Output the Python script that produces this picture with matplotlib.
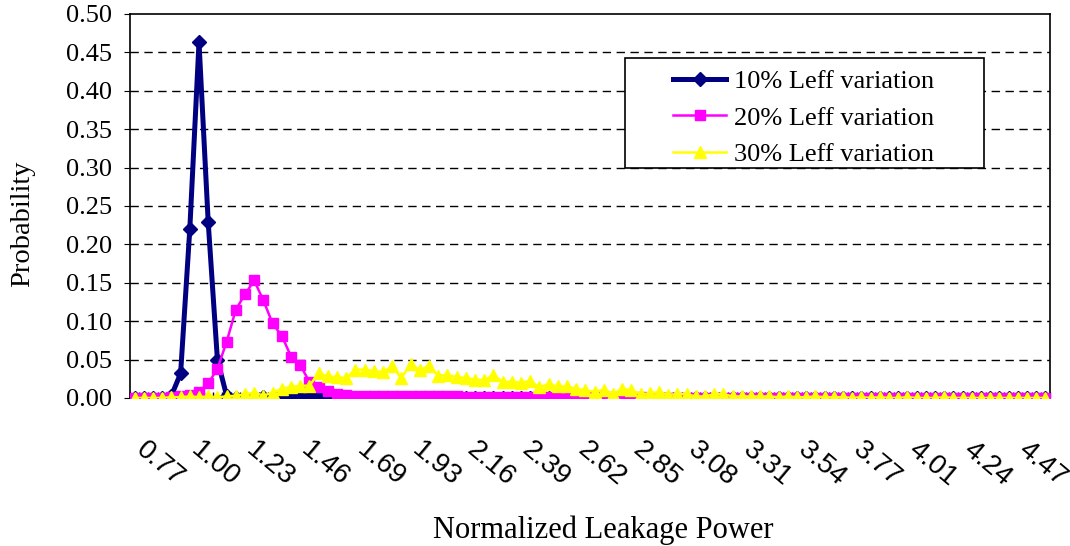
import matplotlib
matplotlib.use("Agg")
import matplotlib.pyplot as plt
from matplotlib.patches import Rectangle
import numpy as np

# x tick labels (one label every 6 categories)
leak_labels = ["0.77", "1.00", "1.23", "1.46", "1.69", "1.93", "2.16", "2.39", "2.62",
               "2.85", "3.08", "3.31", "3.54", "3.77", "4.01", "4.24", "4.47"]
label_every = 6
n_cat = 100

series_names = ["10% Leff variation", "20% Leff variation", "30% Leff variation"]

p10 = [0, 0, 0, 0, 0.003, 0.032, 0.220, 0.463, 0.229, 0.050,
       0.003, 0, 0, 0, 0.001, 0.001, 0.002, 0.002, 0.002, 0.002,
       0.002, 0.001] + [0] * 78

p20 = [0, 0, 0, 0, 0.001, 0.002, 0.004, 0.008, 0.019, 0.038,
       0.073, 0.115, 0.135, 0.153, 0.127, 0.097, 0.081, 0.054, 0.043, 0.021,
       0.014, 0.009, 0.005, 0.004, 0.003, 0.003, 0.002, 0.002, 0.002, 0.002,
       0.002, 0.002, 0.002, 0.002, 0.002, 0.002, 0.001, 0.001, 0.001, 0.001,
       0.001, 0.001, 0.001, 0.001, 0.001, 0.001, 0.001, 0.001, 0.001, 0.001,
       0.001, 0.001, 0.001, 0.001, 0.001, 0.001] + [0] * 44

p30 = [0, 0, 0, 0, 0.001, 0.001, 0.002, 0.001, 0.002, 0.001,
       0.002, 0.003, 0.005, 0.007, 0.003, 0.007, 0.012, 0.014, 0.016, 0.016,
       0.032, 0.028, 0.027, 0.026, 0.037, 0.037, 0.035, 0.034, 0.041, 0.026,
       0.044, 0.036, 0.042, 0.029, 0.030, 0.027, 0.026, 0.024, 0.023, 0.030,
       0.021, 0.021, 0.020, 0.022, 0.014, 0.018, 0.015, 0.015, 0.012, 0.010,
       0.008, 0.011, 0.005, 0.012, 0.010, 0.005, 0.006, 0.008, 0.004, 0.005,
       0.005, 0.002, 0.002, 0.005, 0.005, 0.002, 0.002, 0.002, 0.002, 0.002,
       0.001, 0.002, 0.001, 0.001, 0.002, 0.001, 0.001, 0.001, 0, 0.001,
       0, 0.001, 0, 0, 0.001, 0, 0, 0, 0.001, 0,
       0, 0, 0, 0, 0, 0, 0, 0, 0, 0]

serif = "Liberation Serif"
sans = "Liberation Sans"

fig = plt.figure(figsize=(10.7, 5.46), dpi=100)
ax = fig.add_axes([0.1215, 0.2711, 0.8598, 0.7033])

x = np.arange(n_cat)
ax.plot(x, p10, color="#000080", lw=3.6, marker="D", ms=7.5, label=series_names[0], zorder=3)
ax.plot(x, p20, color="#FF00FF", lw=1.8, marker="s", ms=7, label=series_names[1], zorder=3)
ax.plot(x, p30, color="#FFFF00", lw=1.8, marker="^", ms=8.5, label=series_names[2], zorder=3)

ax.set_xlim(-0.5, n_cat - 0.5)
ax.set_ylim(0, 0.5)

# horizontal dashed grid
yt = np.arange(0, 0.501, 0.05)
ax.set_yticks(yt)
ax.set_yticklabels(["%.2f" % v for v in yt], fontfamily=serif, fontsize=19)
for v in yt[1:-1]:
    ax.axhline(v, color="black", lw=1.0, ls=(0, (6, 4)), zorder=1)
ax.tick_params(axis="y", direction="out", length=4, pad=9)

# category axis
ax.set_xticks(x[::label_every])
ax.set_xticklabels(leak_labels, fontfamily=sans, fontsize=20)
ax.set_xticks(np.arange(-0.5, n_cat, 1), minor=True)
ax.tick_params(axis="x", which="major", length=0, pad=39)
ax.tick_params(axis="x", which="minor", direction="in", length=4, width=1)
for lab in ax.get_xticklabels():
    lab.set_rotation(-40)
    lab.set_rotation_mode("anchor")
    lab.set_ha("left")
    lab.set_va("baseline")

for s in ax.spines.values():
    s.set_linewidth(1.2)

ax.set_ylabel("Probability", fontfamily=serif, fontsize=20.5)
ax.yaxis.set_label_coords(-0.1033, 0.453)
ax.set_xlabel("Normalized Leakage Power", fontfamily=serif, fontsize=22)
ax.xaxis.set_label_coords(0.514, -0.307)

# legend box
ax.add_patch(Rectangle((0.538, 0.599), 0.390, 0.286, transform=ax.transAxes,
                       facecolor="white", edgecolor="black", lw=1.2, zorder=5))
leg = ax.legend(loc="upper left", bbox_to_anchor=(0.5906, 0.855), frameon=False,
                borderpad=0, borderaxespad=0, handlelength=2.0, handletextpad=0.3,
                labelspacing=0.49, prop={"family": serif, "size": 19})
leg.set_zorder(6)

fig.savefig("out.png", dpi=100)
